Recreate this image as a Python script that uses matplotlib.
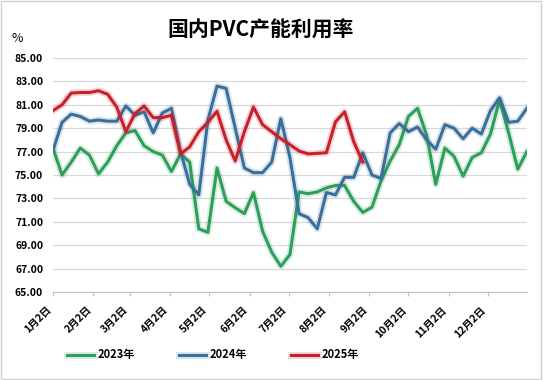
import matplotlib
matplotlib.use("Agg")
import matplotlib.pyplot as plt
import matplotlib.patheffects as pe
from matplotlib.patches import Rectangle
import pandas as pd

plt.rcParams['font.family'] = ['Noto Sans CJK SC', 'DejaVu Sans']

# weekly capacity utilisation (%)
util_2023 = [77.3, 75.0, 76.1, 77.3, 76.7, 75.1, 76.1, 77.5, 78.6, 78.8,
             77.5, 77.0, 76.7, 75.3, 76.8, 76.1, 70.4, 70.1, 75.6, 72.75,
             72.2, 71.7, 73.5, 70.2, 68.4, 67.2, 68.2, 73.55, 73.4, 73.55,
             73.9, 74.1, 74.1, 72.75, 71.8, 72.25, 74.5, 76.2, 77.6, 80.0,
             80.7, 78.4, 74.2, 77.3, 76.6, 74.9, 76.5, 76.9, 78.5, 81.4,
             78.6, 75.5, 77.0]
util_2024 = [77.1, 79.5, 80.2, 80.0, 79.6, 79.7, 79.6, 79.6, 80.9, 80.1,
             80.4, 78.6, 80.3, 80.7, 77.0, 74.2, 73.3, 79.7, 82.6, 82.4,
             79.0, 75.6, 75.2, 75.2, 76.1, 79.8, 76.5, 71.7, 71.35, 70.4,
             73.5, 73.3, 74.8, 74.8, 76.9, 75.0, 74.7, 78.6, 79.4, 78.7,
             79.1, 78.0, 77.2, 79.3, 79.0, 78.1, 79.0, 78.5, 80.5, 81.6,
             79.5, 79.6, 80.7]
util_2025 = [80.5, 81.0, 82.0, 82.05, 82.05, 82.2, 81.9, 80.8, 78.7, 80.25,
             80.9, 79.9, 79.9, 80.1, 76.8, 77.4, 78.7, 79.5, 80.45, 78.0,
             76.2, 78.7, 80.8, 79.3, 78.7, 78.1, 77.6, 77.05, 76.8, 76.85,
             76.9, 79.55, 80.4, 77.85, 76.1]

series_names = ['2023年', '2024年', '2025年']
series_colors = ['#2e9e5b', '#3a6f9c', '#c8202a']
month_labels = [f'{m}月2日' for m in range(1, 13)]

# common calendar axis (weekly points starting Jan 2)
weeks = pd.date_range('2023-01-02', periods=53, freq='7D')
month_ticks = pd.date_range('2023-01-01', periods=12, freq='MS') + pd.Timedelta(days=1)

fig = plt.figure(figsize=(5.46, 3.80), dpi=100)
ax = fig.add_axes([0.097, 0.2316, 0.868, 0.6158])

for vals, name, col in zip([util_2023, util_2024, util_2025], series_names, series_colors):
    ax.plot(weeks[:len(vals)], vals, color=col, lw=2.2, label=name,
            solid_joinstyle='round',
            path_effects=[pe.Stroke(linewidth=5, foreground=col, alpha=0.18), pe.Normal()])

ax.set_ylim(65, 85)
ax.set_yticks(range(65, 86, 2))
ax.set_yticklabels([f'{v:.2f}' for v in range(65, 86, 2)], fontsize=7.5, fontweight='bold')
ax.set_xlim(weeks[0], weeks[-1])
ax.set_xticks(month_ticks)
ax.set_xticklabels(month_labels, rotation=45, ha='right', va='top',
                   fontsize=7.5, fontweight='bold')

ax.grid(axis='y', color='#d9d9d9', lw=0.9)
ax.set_axisbelow(True)
for s in ['left', 'right', 'top']:
    ax.spines[s].set_visible(False)
ax.spines['bottom'].set_color('#bfbfbf')
ax.tick_params(axis='y', length=0, pad=7)
ax.tick_params(axis='x', length=3, color='#bfbfbf', pad=6)

fig.text(0.478, 0.921, '国内PVC产能利用率', ha='center', va='center',
         fontsize=15, fontweight='bold')
fig.text(0.032, 0.9, '%', ha='center', va='center', fontsize=9)

fig.legend(loc='center', bbox_to_anchor=(0.39, 0.066), ncol=3, frameon=False,
           prop={'size': 8, 'weight': 'bold'}, handlelength=2.4,
           handletextpad=0.3, columnspacing=4.0)

fig.add_artist(Rectangle((0.001, 0.003), 0.989, 0.994, transform=fig.transFigure,
                         fill=False, edgecolor='#d0d0d0', lw=1))

fig.savefig('out.png', dpi=100)
